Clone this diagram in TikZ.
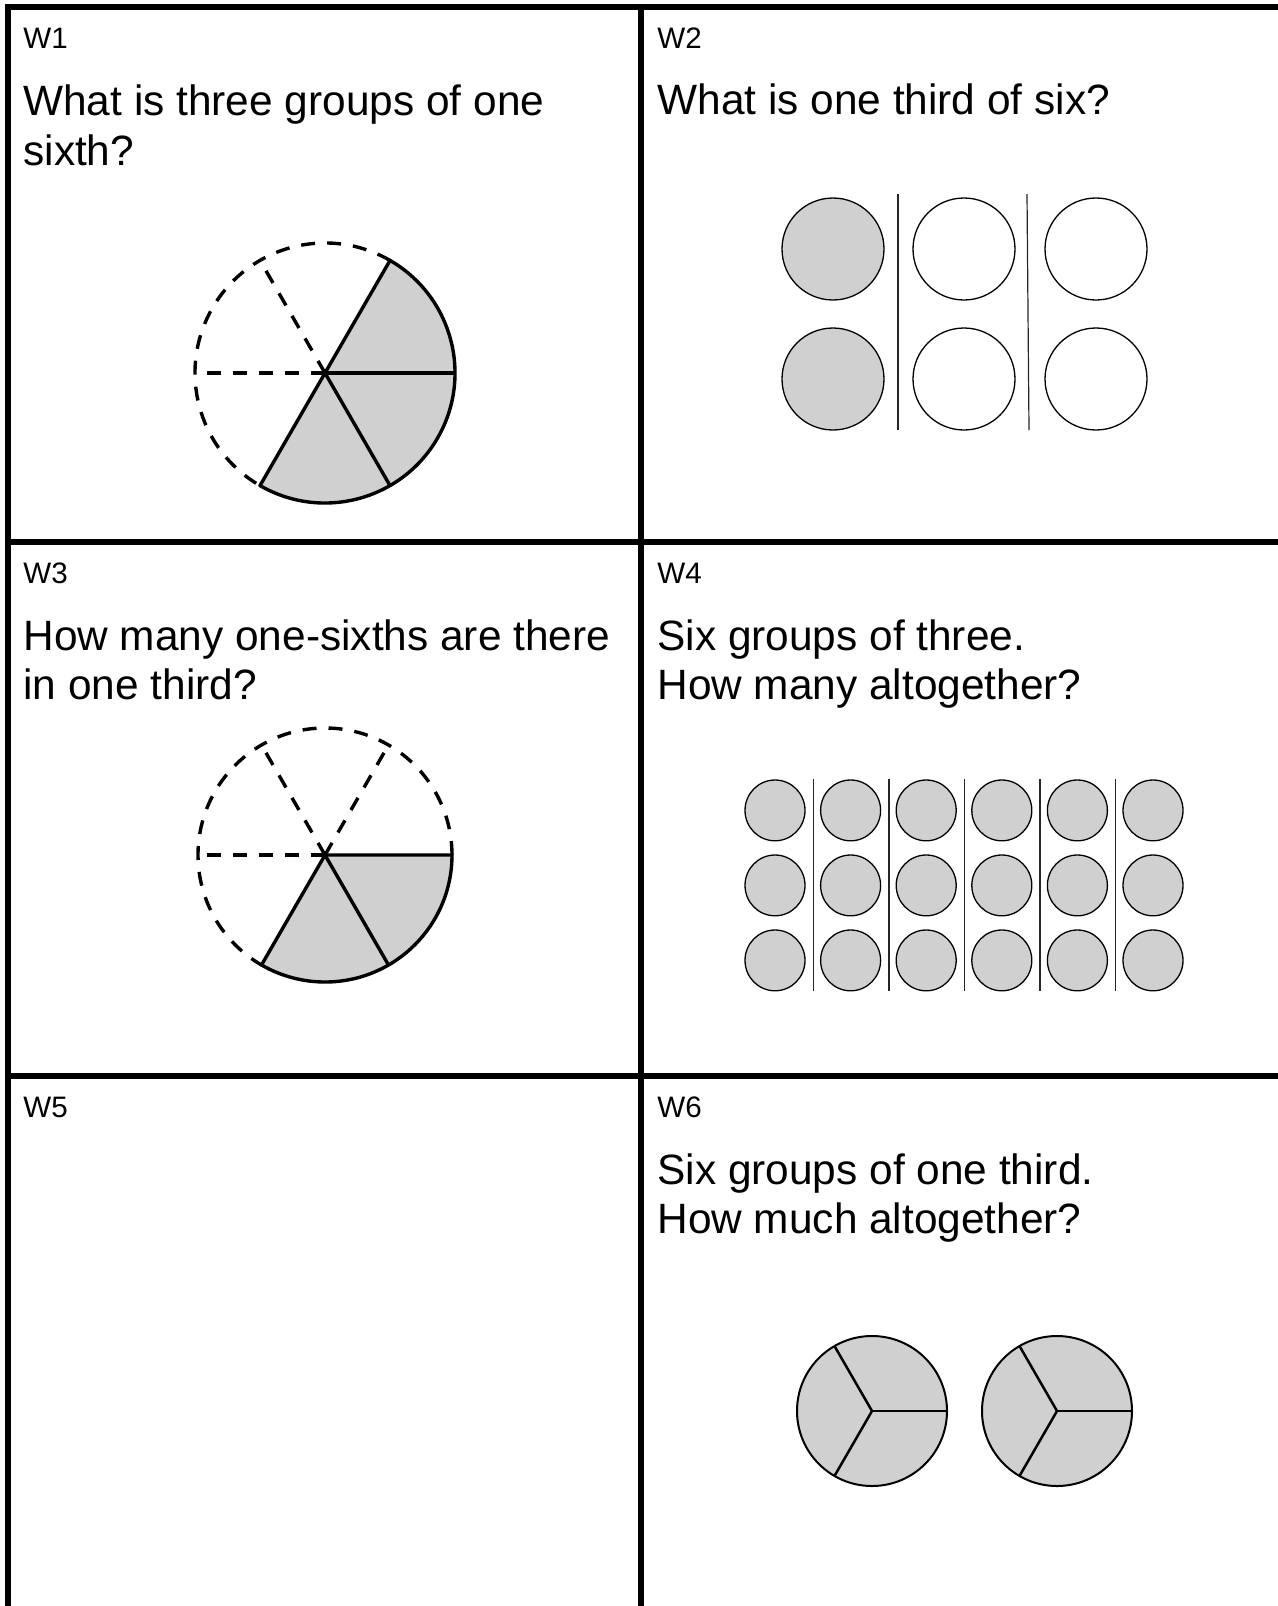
\documentclass[tikz,border=0pt]{standalone}
\usepackage{fontspec}
\setmainfont{Liberation Sans}
\definecolor{pgray}{RGB}{208,208,208}
\begin{document}
\begin{tikzpicture}[x=0.5pt,y=0.5pt,
  gridline/.style={line width=3pt,line join=miter},
  lbl/.style={anchor=base west,inner sep=0pt,font=\fontsize{14.8pt}{17pt}\selectfont},
  qtext/.style={anchor=base west,inner sep=0pt,font=\fontsize{21.2pt}{25pt}\selectfont},
  pieline/.style={line width=1.7pt,line join=round},
  piedash/.style={line width=1.7pt,dash pattern=on 7pt off 6pt},
  filledcirc/.style={draw,fill=pgray,line width=0.65pt},
  emptycirc/.style={draw,fill=white,line width=0.65pt},
  sepline/.style={line width=0.6pt,black!85},
  thirdcirc/.style={draw,fill=pgray,line width=1pt},
  spoke/.style={line width=1.25pt}]
\fill[white] (0,0) rectangle (1278,-1606);
\useasboundingbox (0,0) rectangle (1278,-1606);

% grid
\draw[gridline] (1290,-7) -- (8,-7) -- (8,-1620);
\draw[gridline] (641,-7) -- (641,-1620);
\draw[gridline] (8,-542) -- (1290,-542);
\draw[gridline] (8,-1076) -- (1290,-1076);

% texts
\node[lbl] (w1) at (23,-48) {W1};
\node[qtext] (q1a) at (23,-115) {What is three groups of one};
\node[qtext] (q1b) at (23,-165) {sixth?};
\node[lbl] (w2) at (657,-48) {W2};
\node[qtext] (q2) at (657,-114) {What is one third of six?};
\node[lbl] (w3) at (23,-583) {W3};
\node[qtext] (q3a) at (23,-650) {How many one-sixths are there};
\node[qtext] (q3b) at (23,-699) {in one third?};
\node[lbl] (w4) at (657,-583) {W4};
\node[qtext] (q4a) at (657,-650) {Six groups of three.};
\node[qtext] (q4b) at (657,-699) {How many altogether?};
\node[lbl] (w5) at (23,-1117) {W5};
\node[lbl] (w6) at (657,-1117) {W6};
\node[qtext] (q6a) at (657,-1184) {Six groups of one third.};
\node[qtext] (q6b) at (657,-1233) {How much altogether?};

% W1 pie
\coordinate (c1) at (325,-373);
\fill[pgray] (c1) -- ++(60:130) arc[start angle=60,end angle=-120,radius=130] -- cycle;
\draw[piedash] (c1) ++(60:130) arc[start angle=60,end angle=240,radius=130];
\draw[piedash] (c1) -- ++(120:130);
\draw[piedash] (c1) -- ++(180:130);
\draw[pieline] (c1) -- ++(60:130) arc[start angle=60,end angle=-120,radius=130] -- cycle;
\draw[pieline] (c1) -- ++(0:130);
\draw[pieline] (c1) -- ++(-60:130);

% W3 pie
\coordinate (c3) at (325,-855);
\fill[pgray] (c3) -- ++(0:127) arc[start angle=0,end angle=-120,radius=127] -- cycle;
\draw[piedash] (c3) ++(0:127) arc[start angle=0,end angle=240,radius=127];
\draw[piedash] (c3) -- ++(60:127);
\draw[piedash] (c3) -- ++(120:127);
\draw[piedash] (c3) -- ++(180:127);
\draw[pieline] (c3) -- ++(0:127) arc[start angle=0,end angle=-120,radius=127] -- cycle;
\draw[pieline] (c3) -- ++(-60:127);

% W2 circles
\foreach \y in {249,379} {
  \draw[filledcirc] (833,-\y) circle[radius=51];
  \draw[emptycirc] (964,-\y) circle[radius=51];
  \draw[emptycirc] (1096,-\y) circle[radius=51];
}
\draw[sepline] (898,-194) -- (898,-430);
\draw[sepline] (1027,-194) -- (1029,-430);

% W4 circles
\foreach \i in {0,...,5} {
  \foreach \y in {810.4,885.4,960.4} {
    \draw[filledcirc] (775+75.6*\i,-\y) ellipse[x radius=30,y radius=30.4];
  }
}
\foreach \x in {813.5,889,964.5,1040,1115.5} {
  \draw[sepline] (\x,-779) -- (\x,-991);
}

% W6 thirds
\foreach \cx in {872,1057} {
  \draw[thirdcirc] (\cx,-1411) circle[radius=75];
  \draw[spoke] (\cx,-1411) -- ++(0:75);
  \draw[spoke] (\cx,-1411) -- ++(120:75);
  \draw[spoke] (\cx,-1411) -- ++(240:75);
}
\end{tikzpicture}
\end{document}
